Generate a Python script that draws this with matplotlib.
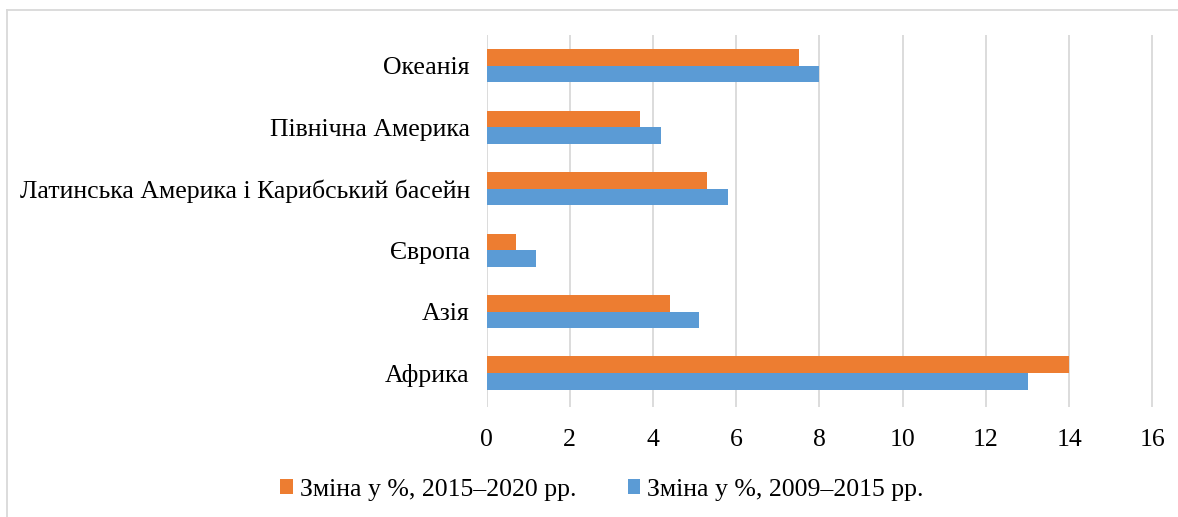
import matplotlib
matplotlib.use("Agg")
import matplotlib.pyplot as plt
import numpy as np

# categories bottom -> top
regions = ["Африка", "Азія", "Європа", "Латинська Америка і Карибський басейн",
           "Північна Америка", "Океанія"]
change_2015_2020 = [14.0, 4.4, 0.7, 5.3, 3.7, 7.5]
change_2009_2015 = [13.0, 5.1, 1.2, 5.8, 4.2, 8.0]
label_2015_2020 = "Зміна у %, 2015–2020 рр."
label_2009_2015 = "Зміна у %, 2009–2015 рр."
x_ticks = [0, 2, 4, 6, 8, 10, 12, 14, 16]

plt.rcParams["font.family"] = ["Liberation Serif", "DejaVu Serif"]
FS = 18.5

fig = plt.figure(figsize=(11.78, 5.17), dpi=100)
ax = fig.add_axes([0.413, 0.213, 0.567, 0.719])

y = np.arange(len(regions))
h = 0.27
ax.barh(y + h / 2, change_2015_2020, height=h, color="#ED7D31",
        label=label_2015_2020, zorder=3)
ax.barh(y - h / 2, change_2009_2015, height=h, color="#5B9BD5",
        label=label_2009_2015, zorder=3)

ax.set_xlim(0, 16.05)
ax.set_ylim(-0.55, 5.5)
ax.set_xticks(x_ticks)
ax.set_yticks(y)
ax.set_yticklabels(regions, fontsize=FS)
ax.tick_params(axis="x", labelsize=FS, length=0, pad=16)
ax.tick_params(axis="y", length=0, pad=12)
ax.grid(axis="x", color="#D9D9D9", linewidth=1.3, zorder=0)
for s in ax.spines.values():
    s.set_visible(False)

handles, labels = ax.get_legend_handles_labels()
fig.legend(handles, labels, loc="center", bbox_to_anchor=(0.511, 0.053), ncol=2,
           frameon=False, fontsize=FS, handlelength=0.5, handleheight=0.5,
           handletextpad=0.25, columnspacing=2.0)

# chart border (only top and left edges visible in the crop)
W, H = 1178, 517
fig.add_artist(plt.Line2D([7 / W, 1], [1 - 10 / H, 1 - 10 / H], transform=fig.transFigure,
                          color="#D9D9D9", linewidth=1.3))
fig.add_artist(plt.Line2D([7 / W, 7 / W], [0, 1 - 10 / H], transform=fig.transFigure,
                          color="#D9D9D9", linewidth=1.3))

fig.savefig("out.png", dpi=100)
